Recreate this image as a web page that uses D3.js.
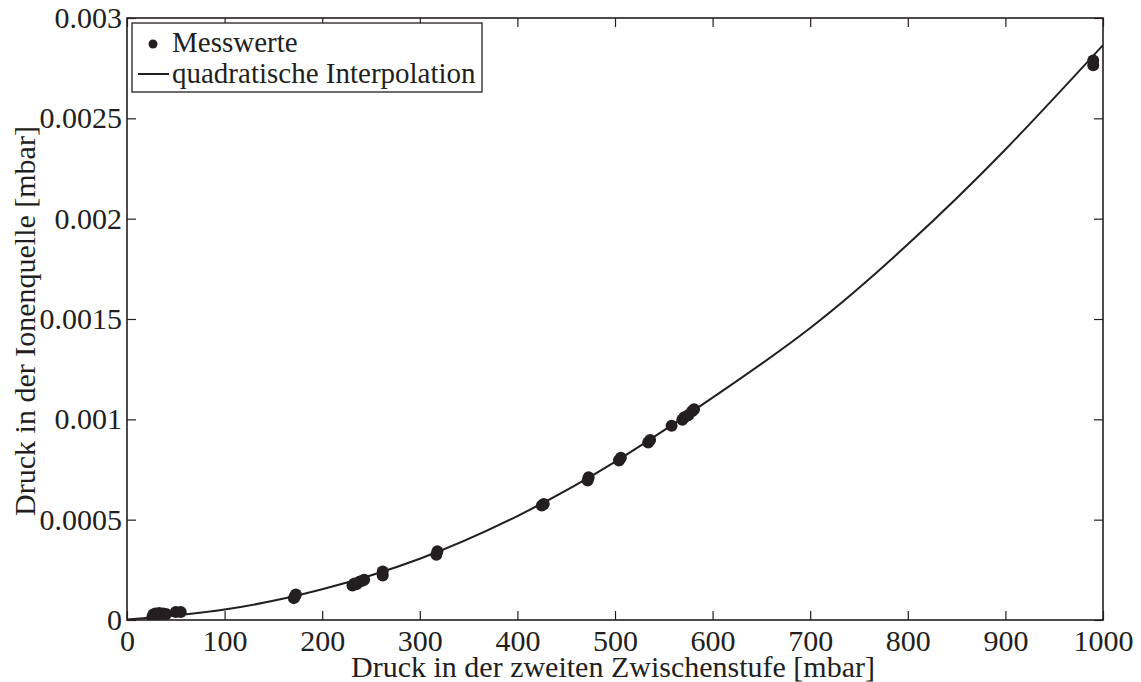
<!DOCTYPE html>
<html>
<head>
<meta charset="utf-8">
<script src="https://cdn.jsdelivr.net/npm/d3@7"></script>
<style>
body { margin: 0; background: #fff; }
text { font-family: "Liberation Serif", "DejaVu Serif", serif; fill: #231f20; }
</style>
</head>
<body>
<script>
// ----------------------------------- DATA --------------------------------------------
// measured clusters (x in mbar, y in mbar)
var messX = [26, 27, 28, 29, 31, 33, 35, 37, 40, 50, 55,
             171, 172, 173,
             231, 233, 235, 238, 241, 243,
             262, 262,
             317, 318,
             425, 427,
             472, 473,
             504, 506,
             534, 536,
             558,
             569, 571, 575,
             579, 581,
             990, 990]
var messY = [0.000015, 0.000028, 0.00002, 0.000032, 0.000025, 0.000035, 0.00003, 0.000033, 0.00003, 0.00004, 0.00004,
             0.000109, 0.000118, 0.000127,
             0.000172, 0.000182, 0.000178, 0.00019, 0.000195, 0.0002,
             0.000222, 0.000242,
             0.000325, 0.000342,
             0.000570, 0.000578,
             0.000695, 0.000712,
             0.000795, 0.000808,
             0.000884, 0.000897,
             0.000968,
             0.000998, 0.00101, 0.00102,
             0.00104, 0.00105,
             0.002765, 0.002788]

// quadratic interpolation curve
var fitX = [0, 100, 200, 300, 400, 500, 600, 700, 800, 900, 1000]
var fitY = [0.000002, 0.000052, 0.000153, 0.000305, 0.000518, 0.000788, 0.001108, 0.001455, 0.001872, 0.002345, 0.002865]

var xTicks = [0, 100, 200, 300, 400, 500, 600, 700, 800, 900, 1000]
var yTicks = [0, 0.0005, 0.001, 0.0015, 0.002, 0.0025, 0.003]
var yTickLabels = ['0', '0.0005', '0.001', '0.0015', '0.002', '0.0025', '0.003']
var legendLabels = ['Messwerte', 'quadratische Interpolation']

// ----------------------------------- SVG --------------------------------------------
var width = 1141
var height = 682
var pLeft = 127, pRight = 1103, pTop = 18, pBottom = 620
var ink = '#231f20'
var fontSize = 29

var svg = d3.select('body')
			.append('svg')
			.attr('width', width)
			.attr('height', height)

var x = d3.scaleLinear().domain([0, 1000]).range([pLeft, pRight])
var y = d3.scaleLinear().domain([0, 0.003]).range([pBottom, pTop])

svg.append('defs').append('clipPath').attr('id', 'plotclip')
	.append('rect')
	.attr('x', pLeft).attr('y', pTop)
	.attr('width', pRight - pLeft).attr('height', pBottom - pTop)

// ----------------------------------- AXES --------------------------------------------
var tickLen = 9

function styleAxis(g) {
	g.select('.domain').remove()
	g.selectAll('line').attr('stroke', ink).attr('stroke-width', 1.2)
	g.selectAll('text').attr('font-size', 30).attr('fill', ink)
		.style('font-family', '"Liberation Serif", serif')
}

svg.append('g')
	.attr('transform', 'translate(0,' + pBottom + ')')
	.call(d3.axisBottom(x).tickValues(xTicks).tickSizeInner(-tickLen).tickSizeOuter(0).tickPadding(10)
		.tickFormat(function(d){ return String(d) }))
	.call(styleAxis)

svg.append('g')
	.attr('transform', 'translate(0,' + pTop + ')')
	.call(d3.axisTop(x).tickValues(xTicks).tickSizeInner(-tickLen).tickSizeOuter(0).tickFormat(''))
	.call(styleAxis)

svg.append('g')
	.attr('transform', 'translate(' + pLeft + ',0)')
	.call(d3.axisLeft(y).tickValues(yTicks).tickSizeInner(-tickLen).tickSizeOuter(0).tickPadding(5)
		.tickFormat(function(d, i){ return yTickLabels[i] }))
	.call(styleAxis)

svg.append('g')
	.attr('transform', 'translate(' + pRight + ',0)')
	.call(d3.axisRight(y).tickValues(yTicks).tickSizeInner(-tickLen).tickSizeOuter(0).tickFormat(''))
	.call(styleAxis)

// frame
svg.append('rect')
	.attr('x', pLeft).attr('y', pTop)
	.attr('width', pRight - pLeft).attr('height', pBottom - pTop)
	.attr('fill', 'none')
	.attr('stroke', ink)
	.attr('stroke-width', 1.6)

// axis titles
svg.append('text')
	.attr('x', 613)
	.attr('y', 677)
	.attr('text-anchor', 'middle')
	.attr('font-size', 30)
	.text('Druck in der zweiten Zwischenstufe [mbar]')

svg.append('text')
	.attr('transform', 'translate(35,' + ((pTop + pBottom) / 2 + 2) + ') rotate(-90)')
	.attr('text-anchor', 'middle')
	.attr('font-size', 30)
	.text('Druck in der Ionenquelle [mbar]')

// ----------------------------------- MARKS --------------------------------------------
var plot = svg.append('g').attr('clip-path', 'url(#plotclip)')

var fit = fitX.map(function(d, i){ return [d, fitY[i]] })

plot.append('path')
	.datum(fit)
	.attr('fill', 'none')
	.attr('stroke', ink)
	.attr('stroke-width', 2)
	.attr('d', d3.line()
		.x(function(d){ return x(d[0]) })
		.y(function(d){ return y(d[1]) })
		.curve(d3.curveNatural))

var mess = messX.map(function(d, i){ return [d, messY[i]] })

plot.selectAll('circle.mess')
	.data(mess)
	.enter()
	.append('circle')
	.attr('class', 'mess')
	.attr('cx', function(d){ return x(d[0]) })
	.attr('cy', function(d){ return y(d[1]) })
	.attr('r', 6)
	.attr('fill', ink)

// ----------------------------------- LEGEND --------------------------------------------
var legend = svg.append('g')

legend.append('rect')
	.attr('x', 132).attr('y', 23)
	.attr('width', 350).attr('height', 69)
	.attr('fill', '#fff')
	.attr('stroke', ink)
	.attr('stroke-width', 1.3)

legend.append('circle')
	.attr('cx', 153).attr('cy', 44)
	.attr('r', 4.5)
	.attr('fill', ink)

legend.append('line')
	.attr('x1', 138).attr('x2', 169)
	.attr('y1', 74).attr('y2', 74)
	.attr('stroke', ink)
	.attr('stroke-width', 2)

legend.selectAll('text.leg')
	.data(legendLabels)
	.enter()
	.append('text')
	.attr('class', 'leg')
	.attr('x', 172)
	.attr('y', function(d, i){ return 52 + i * 31 })
	.attr('font-size', fontSize)
	.text(function(d){ return d })
</script>
</body>
</html>
